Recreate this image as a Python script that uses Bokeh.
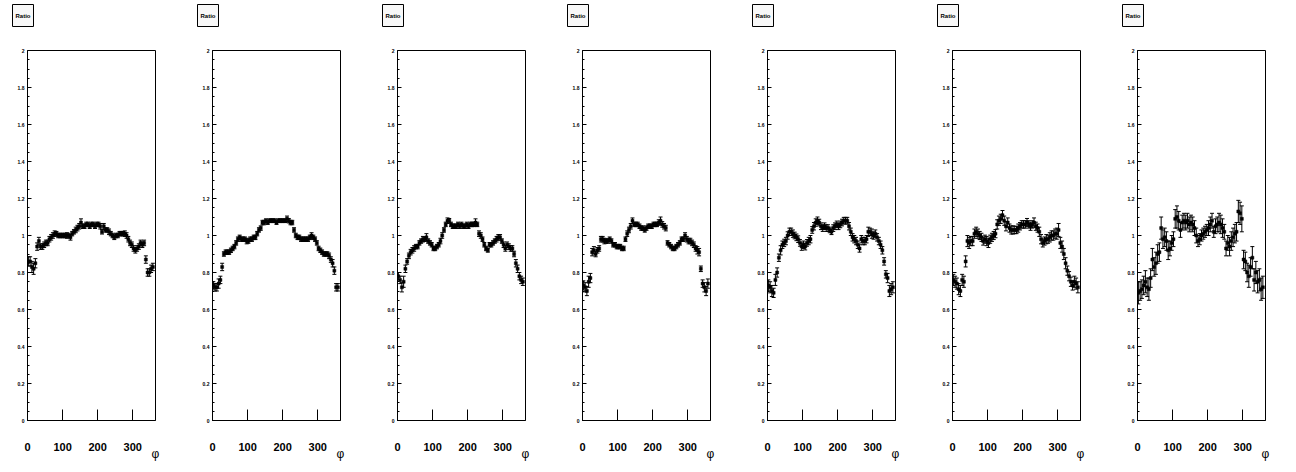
from bokeh.plotting import figure
from bokeh.layouts import row
from bokeh.models import Range1d, FixedTicker, Title, ColumnDataSource
from bokeh.embed import file_html
from bokeh.resources import INLINE

# bin centres (phi, degrees)
phi = [2.5, 7.5, 12.5, 17.5, 22.5, 27.5, 32.5, 37.5, 42.5, 47.5,
       52.5, 57.5, 62.5, 67.5, 72.5, 77.5, 82.5, 87.5, 92.5, 97.5,
       102.5, 107.5, 112.5, 117.5, 122.5, 127.5, 132.5, 137.5, 142.5, 147.5,
       152.5, 157.5, 162.5, 167.5, 172.5, 177.5, 182.5, 187.5, 192.5, 197.5,
       202.5, 207.5, 212.5, 217.5, 222.5, 227.5, 232.5, 237.5, 242.5, 247.5,
       252.5, 257.5, 262.5, 267.5, 272.5, 277.5, 282.5, 287.5, 292.5, 297.5,
       302.5, 307.5, 312.5, 317.5, 322.5, 327.5, 332.5, 337.5, 342.5, 347.5,
       352.5, 357.5]

r1 = [0.86, 0.86, 0.83, 0.82, 0.85, 0.94, 0.97, 0.94, 0.94, 0.95,
      0.96, 0.96, 0.98, 0.99, 1.00, 1.01, 1.01, 1.00, 1.00, 1.00,
      1.00, 1.00, 1.00, 1.00, 0.99, 1.01, 1.02, 1.03, 1.04, 1.05,
      1.07, 1.05, 1.05, 1.06, 1.06, 1.05, 1.06, 1.06, 1.05, 1.06,
      1.06, 1.05, 1.02, 1.05, 1.03, 1.03, 1.02, 1.01, 1.00, 0.99,
      1.00, 1.00, 1.01, 1.01, 1.01, 1.01, 1.00, 0.98, 0.96, 0.95,
      0.93, 0.92, 0.93, 0.94, 0.96, 0.95, 0.96, 0.87, 0.80, 0.80,
      0.82, 0.83]
r2 = [0.73, 0.72, 0.72, 0.74, 0.76, 0.83, 0.90, 0.91, 0.91, 0.91,
      0.92, 0.93, 0.94, 0.96, 0.98, 0.99, 0.98, 0.98, 0.98, 0.97,
      0.97, 0.98, 0.98, 0.99, 0.99, 1.01, 1.03, 1.04, 1.07, 1.07,
      1.08, 1.07, 1.08, 1.08, 1.08, 1.08, 1.07, 1.08, 1.08, 1.08,
      1.08, 1.08, 1.09, 1.08, 1.07, 1.07, 1.03, 1.00, 0.99, 0.99,
      0.98, 0.98, 0.98, 0.98, 0.98, 0.99, 1.00, 0.99, 0.98, 0.96,
      0.93, 0.92, 0.91, 0.90, 0.90, 0.90, 0.89, 0.87, 0.85, 0.81,
      0.72, 0.72]
r3 = [0.78, 0.76, 0.72, 0.75, 0.82, 0.86, 0.89, 0.91, 0.92, 0.93,
      0.94, 0.94, 0.96, 0.97, 0.98, 0.98, 0.99, 0.97, 0.96, 0.95,
      0.93, 0.93, 0.94, 0.95, 0.97, 1.00, 1.03, 1.06, 1.08, 1.08,
      1.06, 1.05, 1.05, 1.05, 1.06, 1.05, 1.06, 1.05, 1.05, 1.06,
      1.05, 1.06, 1.06, 1.06, 1.07, 1.06, 1.01, 1.00, 0.98, 0.95,
      0.93, 0.92, 0.95, 0.95, 0.96, 0.97, 0.98, 0.99, 0.99, 0.97,
      0.95, 0.93, 0.95, 0.94, 0.93, 0.93, 0.90, 0.85, 0.82, 0.78,
      0.76, 0.75]
r4 = [0.73, 0.72, 0.70, 0.75, 0.77, 0.91, 0.92, 0.90, 0.92, 0.93,
      0.98, 0.98, 0.97, 0.97, 0.97, 0.98, 0.97, 0.95, 0.95, 0.94,
      0.94, 0.94, 0.93, 0.93, 0.98, 1.01, 1.03, 1.05, 1.08, 1.06,
      1.06, 1.06, 1.05, 1.04, 1.04, 1.03, 1.04, 1.05, 1.05, 1.05,
      1.06, 1.06, 1.06, 1.07, 1.08, 1.06, 1.05, 1.04, 0.96, 0.95,
      0.94, 0.93, 0.93, 0.94, 0.95, 0.96, 0.98, 0.98, 1.00, 0.98,
      0.97, 0.97, 0.96, 0.95, 0.93, 0.92, 0.91, 0.82, 0.74, 0.72,
      0.70, 0.74]
r5 = [0.73, 0.72, 0.70, 0.69, 0.76, 0.80, 0.88, 0.92, 0.95, 0.96,
      0.97, 1.00, 1.02, 1.02, 1.01, 1.00, 0.99, 0.98, 0.96, 0.94,
      0.95, 0.94, 0.96, 0.97, 0.98, 1.03, 1.05, 1.07, 1.08, 1.07,
      1.05, 1.04, 1.05, 1.04, 1.04, 1.03, 1.02, 1.04, 1.05, 1.06,
      1.05, 1.06, 1.07, 1.08, 1.08, 1.08, 1.05, 1.02, 0.99, 0.98,
      0.97, 0.95, 0.93, 0.98, 0.97, 0.97, 0.98, 1.02, 1.02, 1.01,
      1.00, 1.01, 0.99, 0.97, 0.95, 0.92, 0.86, 0.79, 0.77, 0.70,
      0.71, 0.72]
r6 = [0.76, 0.75, 0.74, 0.71, 0.70, 0.76, 0.75, 0.86, 0.97, 0.96,
      0.97, 0.97, 1.01, 1.02, 1.01, 1.00, 0.99, 0.97, 0.98, 0.97,
      0.96, 0.98, 0.99, 1.00, 1.01, 1.06, 1.08, 1.09, 1.11, 1.08,
      1.05, 1.07, 1.04, 1.03, 1.03, 1.03, 1.03, 1.04, 1.05, 1.06,
      1.06, 1.06, 1.07, 1.06, 1.05, 1.06, 1.07, 1.05, 1.04, 1.02,
      0.98, 0.96, 0.97, 0.98, 0.98, 0.99, 1.00, 1.00, 1.01, 1.01,
      1.03, 0.96, 0.94, 0.90, 0.85, 0.81, 0.78, 0.75, 0.73, 0.75,
      0.74, 0.72]
r7 = [0.69, 0.70, 0.71, 0.73, 0.75, 0.72, 0.71, 0.77, 0.87, 0.83,
      0.85, 0.90, 0.91, 1.04, 0.98, 0.99, 0.97, 0.92, 0.93, 0.96,
      0.98, 1.09, 1.10, 1.08, 1.03, 1.07, 1.08, 1.07, 1.08, 1.06,
      1.07, 1.06, 1.04, 1.00, 0.97, 0.98, 1.00, 1.01, 1.02, 1.03,
      1.04, 1.06, 1.08, 1.02, 1.05, 1.06, 1.07, 1.06, 1.04, 1.02,
      0.93, 0.96, 0.94, 0.97, 0.99, 1.01, 1.02, 1.13, 1.12, 1.09,
      0.87, 0.86, 0.80, 0.78, 0.83, 0.88, 0.76, 0.80, 0.75, 0.76,
      0.71, 0.72]

e1 = [0.025, 0.025, 0.030, 0.030, 0.025, 0.020, 0.020, 0.015, 0.015, 0.015,
      0.015, 0.015, 0.015, 0.015, 0.015, 0.015, 0.012, 0.012, 0.012, 0.012,
      0.012, 0.012, 0.015, 0.012, 0.015, 0.012, 0.012, 0.015, 0.015, 0.015,
      0.020, 0.012, 0.012, 0.012, 0.012, 0.012, 0.012, 0.012, 0.012, 0.012,
      0.012, 0.015, 0.012, 0.015, 0.012, 0.012, 0.015, 0.012, 0.012, 0.012,
      0.012, 0.012, 0.012, 0.012, 0.012, 0.015, 0.015, 0.015, 0.015, 0.015,
      0.015, 0.015, 0.015, 0.015, 0.015, 0.015, 0.015, 0.020, 0.020, 0.020,
      0.020, 0.020]
e2 = [0.020, 0.020, 0.020, 0.025, 0.020, 0.020, 0.012, 0.012, 0.012, 0.012,
      0.012, 0.012, 0.012, 0.012, 0.012, 0.012, 0.012, 0.012, 0.012, 0.015,
      0.012, 0.012, 0.012, 0.012, 0.012, 0.012, 0.012, 0.012, 0.012, 0.012,
      0.010, 0.010, 0.010, 0.010, 0.010, 0.010, 0.010, 0.010, 0.010, 0.010,
      0.010, 0.010, 0.015, 0.012, 0.012, 0.012, 0.012, 0.012, 0.012, 0.012,
      0.012, 0.012, 0.012, 0.012, 0.012, 0.012, 0.015, 0.012, 0.012, 0.012,
      0.012, 0.012, 0.012, 0.012, 0.012, 0.012, 0.015, 0.015, 0.020, 0.020,
      0.020, 0.020]
e3 = [0.020, 0.020, 0.025, 0.030, 0.020, 0.015, 0.015, 0.015, 0.015, 0.015,
      0.012, 0.012, 0.012, 0.012, 0.015, 0.012, 0.020, 0.012, 0.012, 0.012,
      0.012, 0.012, 0.012, 0.012, 0.015, 0.015, 0.012, 0.012, 0.015, 0.012,
      0.012, 0.012, 0.012, 0.012, 0.012, 0.012, 0.012, 0.012, 0.012, 0.012,
      0.012, 0.012, 0.012, 0.012, 0.020, 0.012, 0.015, 0.015, 0.012, 0.012,
      0.012, 0.010, 0.012, 0.012, 0.012, 0.012, 0.015, 0.015, 0.015, 0.012,
      0.015, 0.015, 0.015, 0.015, 0.015, 0.015, 0.015, 0.020, 0.020, 0.020,
      0.020, 0.020]
e4 = [0.025, 0.025, 0.025, 0.030, 0.025, 0.020, 0.020, 0.015, 0.015, 0.015,
      0.015, 0.015, 0.015, 0.012, 0.012, 0.012, 0.012, 0.012, 0.012, 0.012,
      0.012, 0.012, 0.012, 0.012, 0.012, 0.015, 0.015, 0.015, 0.015, 0.012,
      0.012, 0.012, 0.012, 0.012, 0.012, 0.012, 0.012, 0.012, 0.012, 0.012,
      0.012, 0.012, 0.012, 0.015, 0.020, 0.015, 0.015, 0.015, 0.012, 0.012,
      0.012, 0.012, 0.012, 0.012, 0.012, 0.012, 0.012, 0.012, 0.015, 0.015,
      0.015, 0.015, 0.015, 0.015, 0.015, 0.020, 0.020, 0.015, 0.020, 0.025,
      0.025, 0.025]
e5 = [0.030, 0.030, 0.030, 0.025, 0.030, 0.025, 0.020, 0.025, 0.020, 0.020,
      0.020, 0.020, 0.020, 0.020, 0.020, 0.018, 0.018, 0.018, 0.018, 0.020,
      0.020, 0.018, 0.018, 0.020, 0.020, 0.018, 0.020, 0.020, 0.020, 0.018,
      0.018, 0.018, 0.018, 0.018, 0.018, 0.015, 0.015, 0.018, 0.018, 0.018,
      0.018, 0.018, 0.018, 0.018, 0.018, 0.018, 0.020, 0.020, 0.020, 0.020,
      0.020, 0.020, 0.020, 0.020, 0.020, 0.020, 0.020, 0.025, 0.020, 0.025,
      0.020, 0.020, 0.020, 0.020, 0.020, 0.020, 0.020, 0.020, 0.025, 0.030,
      0.030, 0.030]
e6 = [0.030, 0.030, 0.030, 0.030, 0.030, 0.030, 0.030, 0.030, 0.030, 0.030,
      0.025, 0.025, 0.025, 0.025, 0.025, 0.022, 0.022, 0.022, 0.022, 0.025,
      0.025, 0.022, 0.022, 0.022, 0.022, 0.025, 0.025, 0.025, 0.025, 0.025,
      0.025, 0.025, 0.022, 0.022, 0.022, 0.020, 0.020, 0.022, 0.020, 0.020,
      0.020, 0.020, 0.022, 0.020, 0.022, 0.020, 0.025, 0.022, 0.022, 0.025,
      0.025, 0.022, 0.022, 0.025, 0.022, 0.025, 0.025, 0.025, 0.025, 0.030,
      0.035, 0.030, 0.030, 0.030, 0.030, 0.025, 0.025, 0.025, 0.025, 0.030,
      0.030, 0.030]
e7 = [0.060, 0.050, 0.050, 0.050, 0.060, 0.050, 0.060, 0.050, 0.060, 0.050,
      0.060, 0.050, 0.050, 0.060, 0.050, 0.050, 0.050, 0.050, 0.040, 0.040,
      0.040, 0.050, 0.060, 0.050, 0.040, 0.040, 0.040, 0.040, 0.040, 0.040,
      0.040, 0.040, 0.040, 0.040, 0.030, 0.030, 0.030, 0.030, 0.030, 0.030,
      0.040, 0.040, 0.040, 0.030, 0.040, 0.040, 0.050, 0.050, 0.050, 0.040,
      0.040, 0.040, 0.050, 0.050, 0.050, 0.050, 0.050, 0.060, 0.060, 0.070,
      0.050, 0.050, 0.050, 0.060, 0.050, 0.060, 0.060, 0.060, 0.060, 0.060,
      0.060, 0.060]

ratios = [r1, r2, r3, r4, r5, r6, r7]
errors = [e1, e2, e3, e4, e5, e6, e7]

x_ticks = [0, 100, 200, 300]
y_ticks = [0, 0.2, 0.4, 0.6, 0.8, 1, 1.2, 1.4, 1.6, 1.8, 2]
y_tick_labels = ["0", "0.2", "0.4", "0.6", "0.8", "1", "1.2", "1.4", "1.6", "1.8", "2"]
y_minor = [0.05, 0.1, 0.15, 0.25, 0.3, 0.35, 0.45, 0.5, 0.55, 0.65, 0.7, 0.75,
           0.85, 0.9, 0.95, 1.05, 1.1, 1.15, 1.25, 1.3, 1.35, 1.45, 1.5, 1.55,
           1.65, 1.7, 1.75, 1.85, 1.9, 1.95]
title_text = "Ratio"
x_title = "φ"

FONT = "Liberation Sans"
figs = []
for k in range(7):
    p = figure(width=185, height=472,
               x_range=Range1d(0, 365), y_range=Range1d(0, 2),
               output_backend="svg", toolbar_location=None,
               min_border_left=27, min_border_right=30,
               min_border_top=50, min_border_bottom=52)
    p.background_fill_color = "white"
    p.border_fill_color = "white"
    p.outline_line_color = "black"
    p.outline_line_width = 1
    p.xgrid.grid_line_color = None
    p.ygrid.grid_line_color = None

    xa = p.xaxis[0]
    xa.ticker = FixedTicker(ticks=x_ticks, minor_ticks=[])
    xa.major_tick_in = 11
    xa.major_tick_out = 0
    xa.minor_tick_line_color = None
    xa.axis_line_color = "black"
    xa.major_tick_line_color = "black"
    xa.major_label_text_font = FONT
    xa.major_label_text_font_style = "bold"
    xa.major_label_text_font_size = "11px"
    xa.major_label_text_color = "black"
    xa.major_label_standoff = 22
    # axis title at the right end of the axis
    xa.axis_label = x_title
    xa.axis_label_align = "end"
    xa.axis_label_standoff = -7
    xa.axis_label_text_font = FONT
    xa.axis_label_text_font_size = "12px"
    xa.axis_label_text_font_style = "normal"
    xa.axis_label_text_color = "black"

    ya = p.yaxis[0]
    ya.ticker = FixedTicker(ticks=y_ticks, minor_ticks=y_minor)
    ya.major_label_overrides = {t: s for t, s in zip(y_ticks, y_tick_labels)}
    ya.major_tick_in = 4
    ya.major_tick_out = 0
    ya.minor_tick_in = 2
    ya.minor_tick_out = 0
    ya.axis_line_color = "black"
    ya.major_tick_line_color = "black"
    ya.minor_tick_line_color = "black"
    ya.major_label_text_font = FONT
    ya.major_label_text_font_style = "bold"
    ya.major_label_text_font_size = "5px"
    ya.major_label_text_color = "black"
    ya.major_label_standoff = 3

    y = ratios[k]
    e = errors[k]
    src = ColumnDataSource(dict(
        x=phi, y=y,
        lo=[a - b for a, b in zip(y, e)],
        hi=[a + b for a, b in zip(y, e)],
        xl=[v - 2.5 for v in phi], xr=[v + 2.5 for v in phi],
    ))
    p.segment(x0="x", y0="lo", x1="x", y1="hi", source=src,
              line_color="black", line_width=1)
    p.segment(x0="xl", y0="y", x1="xr", y1="y", source=src,
              line_color="black", line_width=1)
    p.scatter(x="x", y="lo", source=src, marker="dash", size=4,
              line_color="black", line_width=1)
    p.scatter(x="x", y="hi", source=src, marker="dash", size=4,
              line_color="black", line_width=1)
    p.scatter(x="x", y="y", source=src, marker="square", size=3,
              fill_color="black", line_color="black", line_width=0.5)

    # spacer between frame and the "Ratio" box, then the box itself
    p.add_layout(Title(text=" ", standoff=20, text_font_size="1px",
                       text_color="white"), "above")
    p.add_layout(Title(text=title_text, align="left", offset=-15, standoff=2,
                       text_font=FONT, text_font_size="6px",
                       text_font_style="bold", text_color="black",
                       background_fill_color="#f8f8f8",
                       border_line_color="black", border_line_width=1,
                       padding=dict(left=3, right=3, top=8, bottom=8)), "above")
    figs.append(p)

layout = row(*figs)
open("out.html", "w").write(file_html(layout, INLINE))
